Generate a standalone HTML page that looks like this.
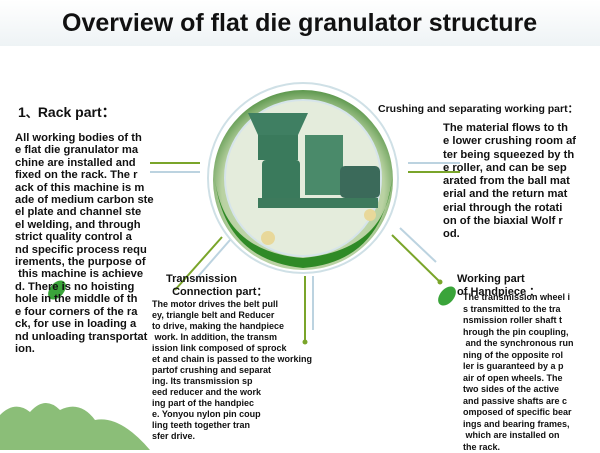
<!DOCTYPE html>
<html><head><meta charset="utf-8"><style>
body{margin:0;width:600px;height:450px;overflow:hidden;background:#fff;position:relative;font-family:"Liberation Sans",sans-serif;color:#111}
.t{position:absolute;font-weight:bold;white-space:nowrap}
</style></head><body>
<div style="position:absolute;left:0;top:0;width:600px;height:46px;background:linear-gradient(#fff,#eef3f5)"></div>
<div class="t" style="left:62px;top:9px;font-size:25px;color:#111">Overview of flat die granulator structure</div>
<svg width="600" height="450" style="position:absolute;left:0;top:0">
<defs><radialGradient id="g" cx="50%" cy="55%" r="60%"><stop offset="0" stop-color="#dfe8d6"/><stop offset="0.75" stop-color="#b9d2a2"/><stop offset="1" stop-color="#2e7a22"/></radialGradient></defs>
<circle cx="303" cy="178" r="95" fill="none" stroke="#cfe0e6" stroke-width="2"/>
<circle cx="303" cy="180" r="90" fill="url(#g)"/>
<circle cx="303" cy="178" r="78" fill="#e4ecdc" stroke="#d6e4ea" stroke-width="2"/>
<path d="M215,180 Q225,260 303,268 Q380,262 392,180 Q385,250 303,258 Q225,252 215,180Z" fill="#2f8a26"/>
<polygon points="248,113 308,113 298,135 258,135" fill="#3f7f62"/>
<rect x="258" y="135" width="40" height="25" fill="#3a7a5c"/>
<rect x="262" y="160" width="38" height="42" rx="4" fill="#3a7a5c"/>
<rect x="305" y="135" width="38" height="60" fill="#4a8a6a"/>
<rect x="340" y="166" width="40" height="32" rx="5" fill="#3b6a5a"/>
<rect x="258" y="198" width="120" height="10" fill="#3d7a5c"/>
<circle cx="268" cy="238" r="7" fill="#e8d89a"/><circle cx="370" cy="215" r="6" fill="#e8d89a"/>
<g stroke-width="2">
<line x1="150" y1="163" x2="200" y2="163" stroke="#7aa52a"/>
<line x1="150" y1="172" x2="200" y2="172" stroke="#bcd3e0"/>
<line x1="408" y1="163" x2="460" y2="163" stroke="#bcd3e0"/>
<line x1="408" y1="172" x2="460" y2="172" stroke="#7aa52a"/>
<line x1="222" y1="237" x2="175" y2="290" stroke="#7aa52a"/>
<line x1="230" y1="240" x2="195" y2="280" stroke="#bcd3e0"/>
<line x1="305" y1="276" x2="305" y2="342" stroke="#7aa52a"/>
<line x1="313" y1="276" x2="313" y2="330" stroke="#bcd3e0"/>
<line x1="392" y1="235" x2="440" y2="282" stroke="#7aa52a"/>
<line x1="400" y1="228" x2="436" y2="262" stroke="#bcd3e0"/>
</g>
<circle cx="305" cy="342" r="2.5" fill="#7aa52a"/><circle cx="440" cy="282" r="2.5" fill="#7aa52a"/>
<ellipse cx="447" cy="296" rx="7" ry="11" transform="rotate(40 447 296)" fill="#3aa43a"/>
<ellipse cx="57" cy="290" rx="7" ry="11" transform="rotate(40 57 290)" fill="#3aa43a"/>
<path d="M0,450 L0,415 Q15,400 30,412 Q45,395 60,410 Q80,400 95,420 Q120,415 150,450Z" fill="#5aa23f" opacity="0.7"/>
</svg>
<div class="t" style="left:18px;top:102px;font-size:14px">1<span style="font-size:12px">、</span>Rack part：</div>
<div class="t" style="left:15px;top:132px;font-size:11.2px;line-height:12.4px">All working bodies of th<br>e flat die granulator ma<br>chine are installed and<br>fixed on the rack. The r<br>ack of this machine is m<br>ade of medium carbon ste<br>el plate and channel ste<br>el welding, and through<br>strict quality control a<br>nd specific process requ<br>irements, the purpose of<br>&nbsp;this machine is achieve<br>d. There is no hoisting<br>hole in the middle of th<br>e four corners of the ra<br>ck, for use in loading a<br>nd unloading transportat<br>ion.</div>
<div class="t" style="left:378px;top:101px;font-size:10.5px">Crushing and separating working part：</div>
<div class="t" style="left:443px;top:122px;font-size:11.2px;line-height:13.3px">The material flows to th<br>e lower crushing room af<br>ter being squeezed by th<br>e roller, and can be sep<br>arated from the ball mat<br>erial and the return mat<br>erial through the rotati<br>on of the biaxial Wolf r<br>od.</div>
<div class="t" style="left:166px;top:273px;font-size:11px;line-height:13px">Transmission<br>&nbsp;&nbsp;Connection part：</div>
<div class="t" style="left:152px;top:299px;font-size:9px;line-height:11px">The motor drives the belt pull<br>ey, triangle belt and Reducer<br>to drive, making the handpiece<br>&nbsp;work. In addition, the transm<br>ission link composed of sprock<br>et and chain is passed to the working<br>partof crushing and separat<br>ing. Its transmission sp<br>eed reducer and the work<br>ing part of the handpiec<br>e. Yonyou nylon pin coup<br>ling teeth together tran<br>sfer drive.</div>
<div class="t" style="left:457px;top:273px;font-size:11px;line-height:13px">Working part<br>of Handpiece ：</div>
<div class="t" style="left:463px;top:292px;font-size:9px;line-height:11.5px">The transmission wheel i<br>s transmitted to the tra<br>nsmission roller shaft t<br>hrough the pin coupling,<br>&nbsp;and the synchronous run<br>ning of the opposite rol<br>ler is guaranteed by a p<br>air of open wheels. The<br>two sides of the active<br>and passive shafts are c<br>omposed of specific bear<br>ings and bearing frames,<br>&nbsp;which are installed on<br>the rack.</div>
</body></html>
